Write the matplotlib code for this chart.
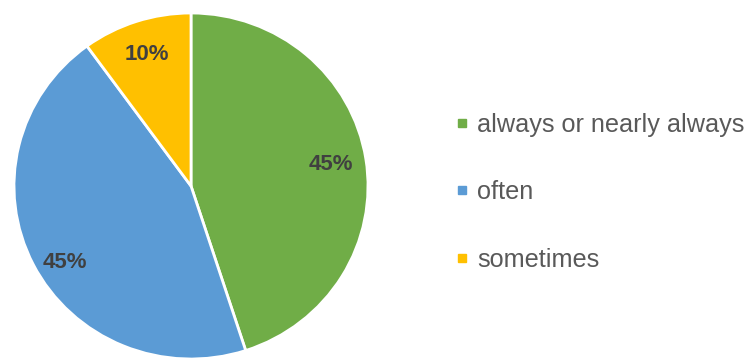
import matplotlib.pyplot as plt
from matplotlib.lines import Line2D

labels = ["always or nearly always", "often", "sometimes"]
values = [45, 45, 10]
colors = ["#70AD47", "#5B9BD5", "#FFC000"]

plt.rcParams['font.family'] = ['Liberation Sans', 'DejaVu Sans']

fig = plt.figure(figsize=(7.52, 3.6), dpi=100)
# pie is slightly wider than tall in the reference
ax = fig.add_axes([14 / 752, 1 / 360, 354 / 752, 346 / 360])

wedges, texts, autotexts = ax.pie(
    values, colors=colors, startangle=90, counterclock=False,
    autopct='%d%%', pctdistance=0.8,
    wedgeprops={'edgecolor': 'white', 'linewidth': 2},
    textprops={'fontsize': 16, 'fontweight': 'bold', 'color': '#404040'})
ax.set_aspect('auto')
ax.set_xlim(-1.0, 1.0)
ax.set_ylim(-1.0, 1.0)

# nudge the "often" label down a bit, like the reference
x, y = autotexts[1].get_position()
autotexts[1].set_position((x, y - 0.08))

handles = [Line2D([], [], marker='s', linestyle='', color=c, markersize=6)
           for c in colors]
fig.legend(handles, labels, loc='center left',
           bbox_to_anchor=(0.604, 0.466), frameon=False,
           fontsize=18.2, labelcolor='#595959',
           handlelength=0.6, handletextpad=0.3, labelspacing=1.72,
           borderpad=0, borderaxespad=0)

fig.savefig("out.png", dpi=100)
